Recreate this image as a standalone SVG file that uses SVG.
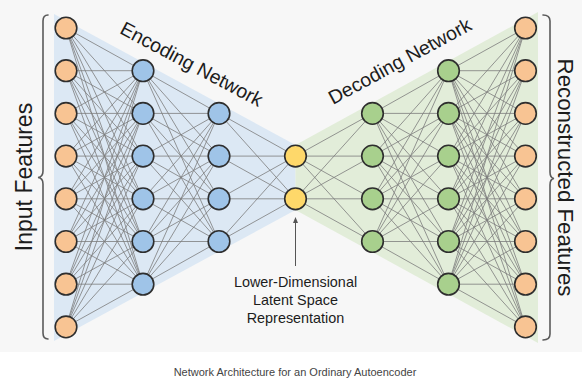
<svg xmlns="http://www.w3.org/2000/svg" width="582" height="378" viewBox="0 0 582 378">
<style>
.n{stroke:#2e2e2e;stroke-width:1.6}
.o{fill:#f8c493}
.b{fill:#9fc4e8}
.y{fill:#fed86a}
.g{fill:#a8d08d}
.e{fill:none;stroke:#7c7c7c;stroke-width:0.8}
.br{fill:none;stroke:#5a5a5a;stroke-width:1.6;stroke-linecap:round}
.t{font-family:"Liberation Sans",Arial,sans-serif;fill:#1c1c1c}
</style>
<defs>
<marker id="ah" markerWidth="6" markerHeight="6" refX="3" refY="3" orient="auto" markerUnits="userSpaceOnUse">
<path d="M0,0.5 L6,3 L0,5.5 z" fill="#555"/>
</marker>
</defs>
<rect x="0" y="0" width="582" height="352" fill="#f7f7f7"/>
<polygon points="54,14 295.5,145 295.5,210 54,341" fill="#dce8f4"/>
<polygon points="295.5,145 538,12 538,343 295.5,210" fill="#e2edd9"/>
<g id="connectors" class="e">
<path d="M66 28L143 70.7M66 28L143 113.4M66 28L143 156.1M66 28L143 198.8M66 28L143 241.5M66 28L143 284.2M66 70.7L143 70.7M66 70.7L143 113.4M66 70.7L143 156.1M66 70.7L143 198.8M66 70.7L143 241.5M66 70.7L143 284.2M66 113.4L143 70.7M66 113.4L143 113.4M66 113.4L143 156.1M66 113.4L143 198.8M66 113.4L143 241.5M66 113.4L143 284.2M66 156.1L143 70.7M66 156.1L143 113.4M66 156.1L143 156.1M66 156.1L143 198.8M66 156.1L143 241.5M66 156.1L143 284.2M66 198.8L143 70.7M66 198.8L143 113.4M66 198.8L143 156.1M66 198.8L143 198.8M66 198.8L143 241.5M66 198.8L143 284.2M66 241.5L143 70.7M66 241.5L143 113.4M66 241.5L143 156.1M66 241.5L143 198.8M66 241.5L143 241.5M66 241.5L143 284.2M66 284.2L143 70.7M66 284.2L143 113.4M66 284.2L143 156.1M66 284.2L143 198.8M66 284.2L143 241.5M66 284.2L143 284.2M66 326.9L143 70.7M66 326.9L143 113.4M66 326.9L143 156.1M66 326.9L143 198.8M66 326.9L143 241.5M66 326.9L143 284.2"/>
<path d="M143 70.7L219 113.4M143 70.7L219 156.1M143 70.7L219 198.8M143 70.7L219 241.5M143 113.4L219 113.4M143 113.4L219 156.1M143 113.4L219 198.8M143 113.4L219 241.5M143 156.1L219 113.4M143 156.1L219 156.1M143 156.1L219 198.8M143 156.1L219 241.5M143 198.8L219 113.4M143 198.8L219 156.1M143 198.8L219 198.8M143 198.8L219 241.5M143 241.5L219 113.4M143 241.5L219 156.1M143 241.5L219 198.8M143 241.5L219 241.5M143 284.2L219 113.4M143 284.2L219 156.1M143 284.2L219 198.8M143 284.2L219 241.5"/>
<path d="M219 113.4L295.5 156.1M219 113.4L295.5 198.8M219 156.1L295.5 156.1M219 156.1L295.5 198.8M219 198.8L295.5 156.1M219 198.8L295.5 198.8M219 241.5L295.5 156.1M219 241.5L295.5 198.8"/>
<path d="M295.5 156.1L372.5 113.4M295.5 156.1L372.5 156.1M295.5 156.1L372.5 198.8M295.5 156.1L372.5 241.5M295.5 198.8L372.5 113.4M295.5 198.8L372.5 156.1M295.5 198.8L372.5 198.8M295.5 198.8L372.5 241.5"/>
<path d="M372.5 113.4L448.5 70.7M372.5 113.4L448.5 113.4M372.5 113.4L448.5 156.1M372.5 113.4L448.5 198.8M372.5 113.4L448.5 241.5M372.5 113.4L448.5 284.2M372.5 156.1L448.5 70.7M372.5 156.1L448.5 113.4M372.5 156.1L448.5 156.1M372.5 156.1L448.5 198.8M372.5 156.1L448.5 241.5M372.5 156.1L448.5 284.2M372.5 198.8L448.5 70.7M372.5 198.8L448.5 113.4M372.5 198.8L448.5 156.1M372.5 198.8L448.5 198.8M372.5 198.8L448.5 241.5M372.5 198.8L448.5 284.2M372.5 241.5L448.5 70.7M372.5 241.5L448.5 113.4M372.5 241.5L448.5 156.1M372.5 241.5L448.5 198.8M372.5 241.5L448.5 241.5M372.5 241.5L448.5 284.2"/>
<path d="M448.5 70.7L525.5 28M448.5 70.7L525.5 70.7M448.5 70.7L525.5 113.4M448.5 70.7L525.5 156.1M448.5 70.7L525.5 198.8M448.5 70.7L525.5 241.5M448.5 70.7L525.5 284.2M448.5 70.7L525.5 326.9M448.5 113.4L525.5 28M448.5 113.4L525.5 70.7M448.5 113.4L525.5 113.4M448.5 113.4L525.5 156.1M448.5 113.4L525.5 198.8M448.5 113.4L525.5 241.5M448.5 113.4L525.5 284.2M448.5 113.4L525.5 326.9M448.5 156.1L525.5 28M448.5 156.1L525.5 70.7M448.5 156.1L525.5 113.4M448.5 156.1L525.5 156.1M448.5 156.1L525.5 198.8M448.5 156.1L525.5 241.5M448.5 156.1L525.5 284.2M448.5 156.1L525.5 326.9M448.5 198.8L525.5 28M448.5 198.8L525.5 70.7M448.5 198.8L525.5 113.4M448.5 198.8L525.5 156.1M448.5 198.8L525.5 198.8M448.5 198.8L525.5 241.5M448.5 198.8L525.5 284.2M448.5 198.8L525.5 326.9M448.5 241.5L525.5 28M448.5 241.5L525.5 70.7M448.5 241.5L525.5 113.4M448.5 241.5L525.5 156.1M448.5 241.5L525.5 198.8M448.5 241.5L525.5 241.5M448.5 241.5L525.5 284.2M448.5 241.5L525.5 326.9M448.5 284.2L525.5 28M448.5 284.2L525.5 70.7M448.5 284.2L525.5 113.4M448.5 284.2L525.5 156.1M448.5 284.2L525.5 198.8M448.5 284.2L525.5 241.5M448.5 284.2L525.5 284.2M448.5 284.2L525.5 326.9"/>
<line x1="295.5" y1="266" x2="295.5" y2="220" stroke="#555" stroke-width="1" marker-end="url(#ah)"/>
</g>
<g id="in1"><circle class="n o" cx="66" cy="28" r="10.8"/></g>
<g id="in2"><circle class="n o" cx="66" cy="70.7" r="10.8"/></g>
<g id="in3"><circle class="n o" cx="66" cy="113.4" r="10.8"/></g>
<g id="in4"><circle class="n o" cx="66" cy="156.1" r="10.8"/></g>
<g id="in5"><circle class="n o" cx="66" cy="198.8" r="10.8"/></g>
<g id="in6"><circle class="n o" cx="66" cy="241.5" r="10.8"/></g>
<g id="in7"><circle class="n o" cx="66" cy="284.2" r="10.8"/></g>
<g id="in8"><circle class="n o" cx="66" cy="326.9" r="10.8"/></g>
<g id="enc1_1"><circle class="n b" cx="143" cy="70.7" r="10.8"/></g>
<g id="enc1_2"><circle class="n b" cx="143" cy="113.4" r="10.8"/></g>
<g id="enc1_3"><circle class="n b" cx="143" cy="156.1" r="10.8"/></g>
<g id="enc1_4"><circle class="n b" cx="143" cy="198.8" r="10.8"/></g>
<g id="enc1_5"><circle class="n b" cx="143" cy="241.5" r="10.8"/></g>
<g id="enc1_6"><circle class="n b" cx="143" cy="284.2" r="10.8"/></g>
<g id="enc2_1"><circle class="n b" cx="219" cy="113.4" r="10.8"/></g>
<g id="enc2_2"><circle class="n b" cx="219" cy="156.1" r="10.8"/></g>
<g id="enc2_3"><circle class="n b" cx="219" cy="198.8" r="10.8"/></g>
<g id="enc2_4"><circle class="n b" cx="219" cy="241.5" r="10.8"/></g>
<g id="lat1"><circle class="n y" cx="295.5" cy="156.1" r="10.8"/></g>
<g id="lat2"><circle class="n y" cx="295.5" cy="198.8" r="10.8"/></g>
<g id="dec1_1"><circle class="n g" cx="372.5" cy="113.4" r="10.8"/></g>
<g id="dec1_2"><circle class="n g" cx="372.5" cy="156.1" r="10.8"/></g>
<g id="dec1_3"><circle class="n g" cx="372.5" cy="198.8" r="10.8"/></g>
<g id="dec1_4"><circle class="n g" cx="372.5" cy="241.5" r="10.8"/></g>
<g id="dec2_1"><circle class="n g" cx="448.5" cy="70.7" r="10.8"/></g>
<g id="dec2_2"><circle class="n g" cx="448.5" cy="113.4" r="10.8"/></g>
<g id="dec2_3"><circle class="n g" cx="448.5" cy="156.1" r="10.8"/></g>
<g id="dec2_4"><circle class="n g" cx="448.5" cy="198.8" r="10.8"/></g>
<g id="dec2_5"><circle class="n g" cx="448.5" cy="241.5" r="10.8"/></g>
<g id="dec2_6"><circle class="n g" cx="448.5" cy="284.2" r="10.8"/></g>
<g id="out1"><circle class="n o" cx="525.5" cy="28" r="10.8"/></g>
<g id="out2"><circle class="n o" cx="525.5" cy="70.7" r="10.8"/></g>
<g id="out3"><circle class="n o" cx="525.5" cy="113.4" r="10.8"/></g>
<g id="out4"><circle class="n o" cx="525.5" cy="156.1" r="10.8"/></g>
<g id="out5"><circle class="n o" cx="525.5" cy="198.8" r="10.8"/></g>
<g id="out6"><circle class="n o" cx="525.5" cy="241.5" r="10.8"/></g>
<g id="out7"><circle class="n o" cx="525.5" cy="284.2" r="10.8"/></g>
<g id="out8"><circle class="n o" cx="525.5" cy="326.9" r="10.8"/></g>
<g id="input-brace">
<path class="br" d="M48,15 Q43,15 43,21 L43,171 Q43,177 38,177.5 Q43,178 43,184 L43,333 Q43,339 48,339"/>
<text class="t" font-size="23" text-anchor="middle" transform="translate(32,177) rotate(-90)">Input Features</text>
</g>
<g id="output-brace">
<path class="br" d="M543,15 Q550,15 550,21 L550,172 Q550,178 554,178.5 Q550,179 550,185 L550,334 Q550,340 543,340"/>
<text class="t" font-size="22.3" text-anchor="middle" transform="translate(558,177.5) rotate(90)">Reconstructed Features</text>
</g>
<text class="t" font-size="19.5" text-anchor="middle" transform="translate(188.5,70) rotate(28)">Encoding Network</text>
<text class="t" font-size="19.5" text-anchor="middle" transform="translate(403,67) rotate(-28.5)">Decoding Network</text>
<g id="latent-label" class="t" font-size="14.4" text-anchor="middle">
<text x="295.5" y="287">Lower-Dimensional</text>
<text x="295.5" y="305">Latent Space</text>
<text x="295.5" y="323">Representation</text>
</g>
<text class="t" font-size="11" text-anchor="middle" x="295" y="375.5" style="fill:#444">Network Architecture for an Ordinary Autoencoder</text>
</svg>
